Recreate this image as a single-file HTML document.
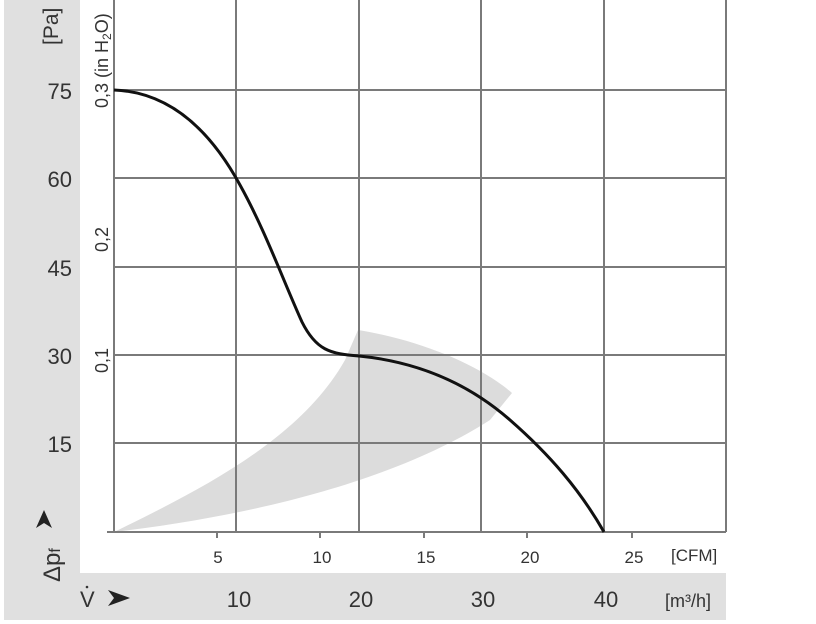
<!DOCTYPE html>
<html><head><style>
body{margin:0;background:#fff;width:816px;height:624px;overflow:hidden}
svg{display:block}
text{font-family:"Liberation Sans",sans-serif;fill:#333}
</style></head><body>
<svg width="816" height="624" viewBox="0 0 816 624">
<rect x="4" y="0" width="76" height="620" fill="#e0e0e0"/>
<rect x="4" y="573" width="722" height="47" fill="#e0e0e0"/>
<path d="M114,532 C200,490 300,440 345,360 L358,330 C420,340 480,365 512,393 L490,420 C420,465 300,510 114,532 Z" fill="#dcdcdc"/>
<g stroke="#7a7a7a" stroke-width="2" fill="none">
<line x1="114" y1="0" x2="114" y2="532"/>
<line x1="236" y1="0" x2="236" y2="532"/>
<line x1="359" y1="0" x2="359" y2="532"/>
<line x1="481" y1="0" x2="481" y2="532"/>
<line x1="604" y1="0" x2="604" y2="532"/>
<line x1="726" y1="0" x2="726" y2="532"/>
<line x1="114" y1="90" x2="726" y2="90"/>
<line x1="114" y1="178" x2="726" y2="178"/>
<line x1="114" y1="267" x2="726" y2="267"/>
<line x1="114" y1="355" x2="726" y2="355"/>
<line x1="114" y1="443" x2="726" y2="443"/>
<line x1="107" y1="532" x2="726" y2="532"/>
<line x1="217" y1="532" x2="217" y2="538"/>
<line x1="320" y1="532" x2="320" y2="538"/>
<line x1="424" y1="532" x2="424" y2="538"/>
<line x1="527" y1="532" x2="527" y2="538"/>
<line x1="632" y1="532" x2="632" y2="538"/>
</g>
<path d="M114,90 C170,92 210,130 240,185 C265,230 283,280 302,322 C316,350 330,354 359,356 C420,362 470,385 510,420 C550,455 580,490 604,532" fill="none" stroke="#111" stroke-width="3"/>
<g font-size="22" text-anchor="end">
<text x="72" y="99">75</text><text x="72" y="187">60</text><text x="72" y="276">45</text>
<text x="72" y="364">30</text><text x="72" y="452">15</text>
</g>
<text transform="translate(58,45) rotate(-90)" font-size="21">[Pa]</text>
<g font-size="18" fill="#444">
<text transform="translate(108,108) rotate(-90)">0,3 (in H<tspan font-size="12" dy="3">2</tspan><tspan dy="-3">O)</tspan></text>
<text transform="translate(108,252) rotate(-90)">0,2</text>
<text transform="translate(108,373) rotate(-90)">0,1</text>
</g>
<g font-size="17" text-anchor="middle">
<text x="218" y="563">5</text><text x="322" y="563">10</text><text x="426" y="563">15</text>
<text x="530" y="563">20</text><text x="634" y="563">25</text>
</g>
<text x="671" y="561" font-size="17">[CFM]</text>
<g font-size="22" text-anchor="middle">
<text x="239" y="607">10</text><text x="361" y="607">20</text><text x="483" y="607">30</text><text x="606" y="607">40</text>
</g>
<text x="665" y="607" font-size="18">[m³/h]</text>
<text x="80" y="607" font-size="22">V</text>
<circle cx="87" cy="587" r="1.3" fill="#333"/>
<path d="M108,590 L130,598 L108,606 L114,598 Z" fill="#222"/>
<path d="M44,510 L52,528 L44,523 L36,528 Z" fill="#222"/>
<text transform="translate(60,582) rotate(-90)" font-size="24">Δp<tspan font-size="16">f</tspan></text>
</svg>
</body></html>
